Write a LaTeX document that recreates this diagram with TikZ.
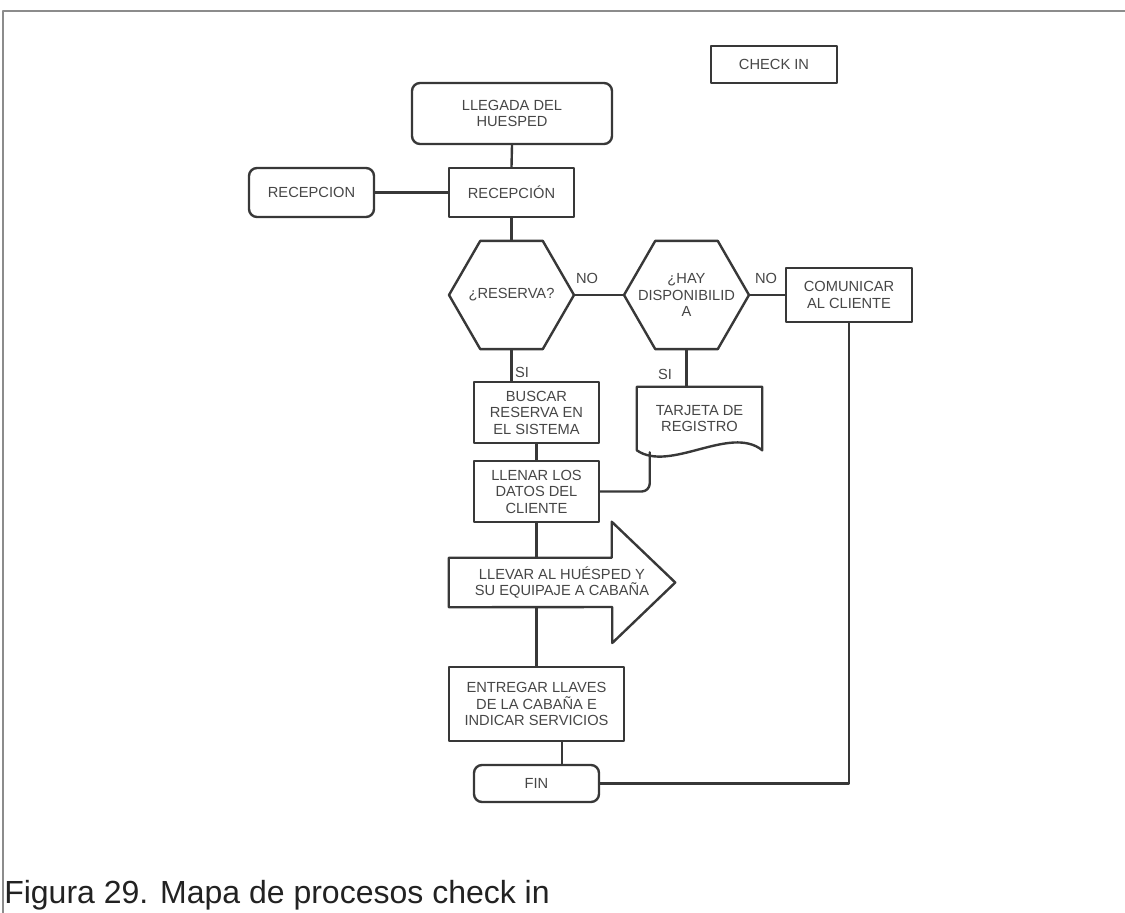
\documentclass[tikz,border=0pt]{standalone}
\usepackage{fontspec}
\setmainfont{Liberation Sans}
\usepackage{tikz}
\usetikzlibrary{positioning,calc,shapes.geometric}
\definecolor{trazo}{HTML}{383838}
\definecolor{tinta}{HTML}{464646}
\definecolor{marco}{HTML}{8C8C8C}
\definecolor{pie}{HTML}{222222}
\tikzset{
    every picture/.style={line cap=round,line join=round},
    linea/.style={draw=trazo,line width=1.8pt},
    texto/.style={text=tinta,align=center,font=\fontsize{11}{12.4}\selectfont},
    caja/.style={linea,texto,inner sep=1pt,minimum width=93.75pt,minimum height=36.75pt},
    terminal/.style={caja,rounded corners=6pt},
    decision/.style={linea,regular polygon,regular polygon sides=6,
      minimum size=93.75pt,inner sep=0pt},
    etiqueta/.style={texto,inner sep=0pt}
}
\begin{document}
\begin{tikzpicture}[x=0.75pt,y=-0.75pt]
  \useasboundingbox (0,0) rectangle (1125,913);
  % marco
  \draw[marco,line width=1.2pt] (3,913) -- (3,11) -- (1125,11);
  \node[caja,minimum width=94.5pt,minimum height=27.75pt] (checkin) at (774,64.5) {CHECK IN};
  % nodos
  \node[terminal,minimum width=150pt,minimum height=45.75pt] (llegada) at (512,113.5) {LLEGADA DEL\\HUESPED};
  \node[caja] (recep) at (511.5,192.5) {RECEPCIÓN};
  \node[terminal] (recepizq) at (311.5,192.5) {RECEPCION};
  \node[decision,label={[texto]center:¿RESERVA?}] (reserva) at (511.5,295) {};
  \node[decision,label={[texto]center:{¿HAY\\DISPONIBILID\\A}}] (hay) at (686.5,295) {};
  \node[caja,minimum width=94.5pt,minimum height=40.5pt] (comunicar) at (849,295) {COMUNICAR\\AL CLIENTE};
  \node[caja,minimum height=45.75pt] (buscar) at (536.5,412.5) {BUSCAR\\RESERVA EN\\EL SISTEMA};
  \node[caja,minimum height=45.75pt] (llenar) at (536.5,491.5) {LLENAR LOS\\DATOS DEL\\CLIENTE};
  \node[etiqueta,minimum width=93.75pt,minimum height=47.25pt] (tarjeta) at (699.5,418.5) {TARJETA DE\\REGISTRO};
  \draw[linea] (tarjeta.south west) -- (tarjeta.north west) -- (tarjeta.north east) -- (tarjeta.south east)
    .. controls +(-32,-26) and +(33,23) .. (tarjeta.south west);
  \coordinate (tjpie) at ($(tarjeta.south west)+(13,2)$);
  \node[etiqueta,minimum width=169.5pt,minimum height=36.75pt] (llevar) at (562,582.5) {LLEVAR AL HUÉSPED Y\\SU EQUIPAJE A CABAÑA};
  \draw[linea] (llevar.north west) -- ++(163,0) -- ++(0,-36) -- (llevar.east) -- ++(-63,60.5)
    -- ++(0,-36) -- (llevar.south west) -- cycle;
  \node[caja,minimum width=131.25pt,minimum height=55.5pt] (entregar) at (536.5,704) {ENTREGAR LLAVES\\DE LA CABAÑA E\\INDICAR SERVICIOS};
  \node[terminal,minimum height=27.75pt] (fin) at (536.5,783.5) {FIN};
  % etiquetas
  \node[etiqueta] (no1) at (587,278) {NO};
  \node[etiqueta] (no2) at (766,278) {NO};
  \node[etiqueta] (si1) at (522,372) {SI};
  \node[etiqueta] (si2) at (665,374) {SI};
  % conectores
  \draw[linea] (llegada.south) -- (recep.north);
  \draw[linea] (recepizq.east) -- (recep.west);
  \draw[linea] (recep.south) -- (reserva.north);
  \draw[linea] (reserva.east) -- (hay.west);
  \draw[linea] (hay.east) -- (comunicar.west);
  \draw[linea] (reserva.south) -- (reserva.south |- buscar.north);
  \draw[linea] (hay.south) -- (hay.south |- tarjeta.north);
  \draw[linea] (buscar.south) -- (llenar.north);
  \draw[linea,rounded corners=6pt] (llenar.east) -| (tjpie);
  \draw[linea] (llenar.south) -- (llenar.south |- llevar.north);
  \draw[linea] (entregar.north |- llevar.south) -- (entregar.north);
  \draw[linea] ([xshift=19pt]entregar.south) -- ([xshift=19pt]entregar.south |- fin.north);
  \draw[linea] (fin.east) -| (comunicar.south);
  % pie
  \node[anchor=base west,inner sep=0pt,text=pie,font=\fontsize{24}{28}\selectfont] (pie) at (4,903) {Figura 29. Mapa de procesos check in};
\end{tikzpicture}
\end{document}
